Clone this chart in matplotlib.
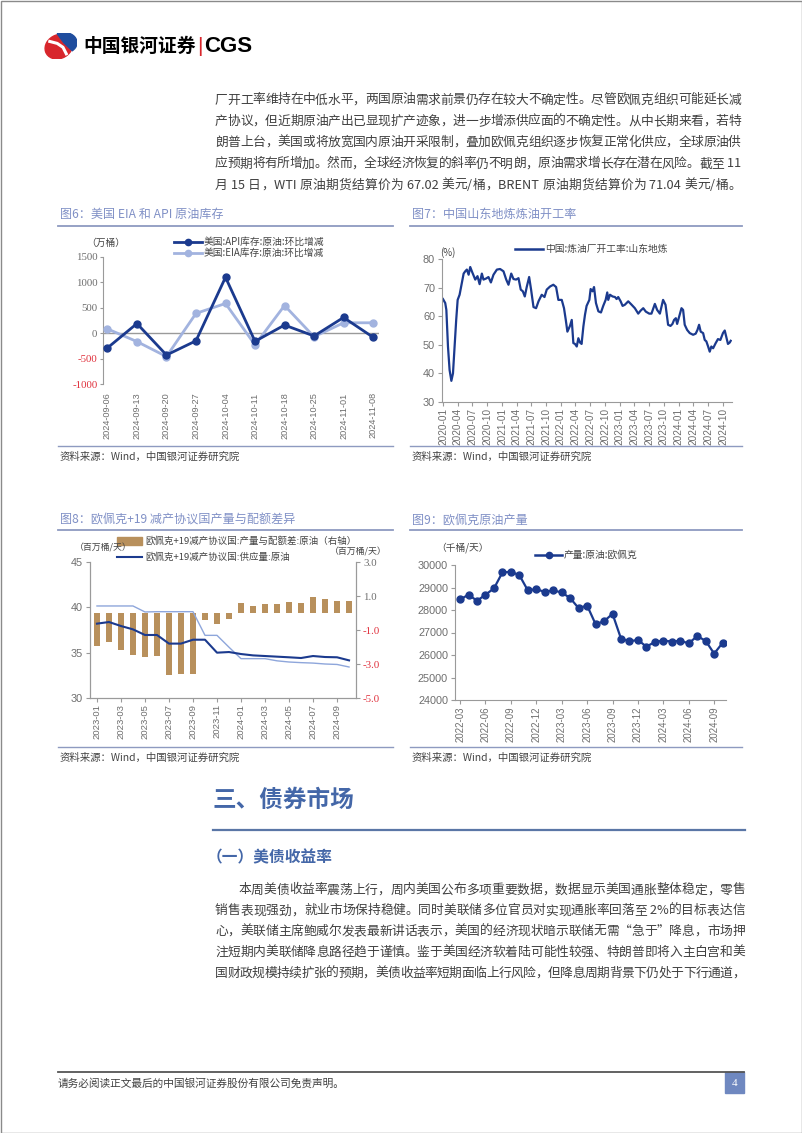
import re
import numpy as np
import pandas as pd
import matplotlib
matplotlib.use('Agg')
import matplotlib.pyplot as plt
import matplotlib.dates as mdates
from matplotlib.lines import Line2D
from matplotlib.patches import Rectangle, Ellipse, Wedge

plt.rcParams['font.family'] = ['Noto Sans CJK SC', 'DejaVu Sans']
plt.rcParams['axes.unicode_minus'] = False

# ---- data ----
# 图6 美国 EIA / API 原油库存 环比增减（万桶）
week6 = ['2024-09-06', '2024-09-13', '2024-09-20', '2024-09-27', '2024-10-04',
         '2024-10-11', '2024-10-18', '2024-10-25', '2024-11-01', '2024-11-08']
api6 = [-290, 190, -430, -150, 1100, -160, 160, -55, 310, -80]
eia6 = [85, -165, -460, 390, 585, -230, 545, -70, 205, 205]

# 图7 山东地炼开工率（%）
dates7 = ['2020-01-01', '2020-01-15', '2020-01-22', '2020-02-01', '2020-02-11', '2020-02-22',
          '2020-03-03', '2020-03-13', '2020-03-23', '2020-04-01', '2020-04-13', '2020-04-27',
          '2020-05-08', '2020-05-18', '2020-05-28', '2020-06-08', '2020-06-18', '2020-06-28',
          '2020-07-09', '2020-07-19', '2020-08-02', '2020-08-15', '2020-08-29', '2020-09-08',
          '2020-09-25', '2020-10-09', '2020-10-24', '2020-11-09', '2020-11-30', '2020-12-20',
          '2021-01-10', '2021-01-27', '2021-02-10', '2021-02-27', '2021-03-13', '2021-03-29',
          '2021-04-13', '2021-04-27', '2021-05-10', '2021-05-22', '2021-06-03', '2021-06-18',
          '2021-06-30', '2021-07-15', '2021-07-31', '2021-08-15', '2021-09-04', '2021-09-21',
          '2021-10-05', '2021-10-26', '2021-11-15', '2021-12-02', '2021-12-16', '2022-01-06',
          '2022-01-20', '2022-01-31', '2022-02-10', '2022-02-26', '2022-03-09', '2022-03-19',
          '2022-03-29', '2022-04-09', '2022-04-19', '2022-04-29', '2022-05-09', '2022-05-20',
          '2022-05-30', '2022-06-09', '2022-06-26', '2022-07-04', '2022-07-16', '2022-07-25',
          '2022-08-06', '2022-08-21', '2022-09-06', '2022-09-20', '2022-10-05', '2022-10-15',
          '2022-10-21', '2022-11-01', '2022-11-17', '2022-12-02', '2022-12-12', '2022-12-22',
          '2023-01-06', '2023-01-18', '2023-02-01', '2023-02-22', '2023-03-15', '2023-04-04',
          '2023-04-25', '2023-05-09', '2023-05-26', '2023-06-11', '2023-07-02', '2023-07-16',
          '2023-08-06', '2023-08-20', '2023-09-06', '2023-09-26', '2023-10-11', '2023-10-27',
          '2023-11-11', '2023-11-23', '2023-12-03', '2023-12-14', '2023-12-22', '2024-01-01',
          '2024-01-18', '2024-01-28', '2024-02-07', '2024-02-22', '2024-03-09', '2024-03-30',
          '2024-04-15', '2024-04-26', '2024-05-06', '2024-05-16', '2024-05-31', '2024-06-10',
          '2024-06-20', '2024-07-01', '2024-07-11', '2024-07-21', '2024-08-01', '2024-08-17',
          '2024-08-31', '2024-09-15', '2024-10-01', '2024-10-12', '2024-10-22', '2024-11-01',
          '2024-11-12', '2024-11-18']
util7 = [66.0, 64.6, 62.2, 49.4, 41.2, 37.4, 40.0, 49.4, 58.7, 65.7, 67.5, 71.6,
         74.9, 75.7, 76.3, 74.5, 77.2, 75.7, 74.2, 72.8, 74.0, 71.2, 74.9, 72.8,
         73.2, 73.7, 71.8, 74.5, 76.3, 76.5, 75.7, 72.8, 71.0, 74.9, 73.0, 72.8,
         73.3, 69.3, 68.7, 66.9, 70.2, 73.7, 69.3, 63.2, 62.8, 65.2, 67.5, 66.7,
         69.3, 70.4, 71.0, 70.2, 65.7, 65.7, 62.8, 58.7, 54.6, 56.6, 58.7, 50.6,
         50.3, 49.4, 52.3, 50.8, 50.3, 56.4, 60.5, 63.6, 65.7, 69.5, 68.7, 70.2,
         64.6, 61.7, 61.3, 63.6, 65.7, 68.3, 65.7, 67.5, 66.9, 66.7, 66.0, 66.7,
         65.2, 63.6, 64.0, 65.2, 64.0, 62.8, 60.9, 61.9, 62.8, 61.6, 60.9, 60.9,
         64.3, 62.2, 60.9, 65.7, 64.0, 57.0, 56.6, 57.3, 58.7, 59.3, 57.3, 59.3,
         62.8, 62.2, 57.0, 55.2, 54.1, 53.5, 53.9, 55.2, 57.0, 54.6, 54.1, 51.7,
         51.2, 49.4, 47.6, 49.4, 48.8, 50.6, 52.0, 51.7, 54.1, 55.0, 52.7, 50.3,
         50.8, 51.4]

# 图8 欧佩克+19 减产协议国
months8 = ['2023-01', '2023-02', '2023-03', '2023-04', '2023-05', '2023-06', '2023-07',
           '2023-08', '2023-09', '2023-10', '2023-11', '2023-12', '2024-01', '2024-02',
           '2024-03', '2024-04', '2024-05', '2024-06', '2024-07', '2024-08', '2024-09',
           '2024-10']
gap8 = [-1.92, -1.69, -2.16, -2.49, -2.59, -2.55, -3.67, -3.59, -3.59, -0.39, -0.65,
        -0.35, 0.57, 0.43, 0.51, 0.51, 0.65, 0.59, 0.94, 0.84, 0.73, 0.73]
supply8 = [38.20, 38.38, 37.94, 37.57, 36.95, 36.95, 36.00, 36.00, 36.43, 36.43, 35.00,
           35.07, 34.85, 34.70, 34.63, 34.56, 34.49, 34.41, 34.63, 34.52, 34.49, 34.15]
quota8 = [40.15, 40.15, 40.15, 40.15, 39.49, 39.52, 39.52, 39.52, 39.52, 36.91, 36.91,
          35.60, 34.34, 34.34, 34.34, 34.10, 33.97, 33.90, 33.85, 33.75, 33.70, 33.42]

# 图9 欧佩克原油产量（千桶/天）
months9 = ['2022-03', '2022-04', '2022-05', '2022-06', '2022-07', '2022-08', '2022-09',
           '2022-10', '2022-11', '2022-12', '2023-01', '2023-02', '2023-03', '2023-04',
           '2023-05', '2023-06', '2023-07', '2023-08', '2023-09', '2023-10', '2023-11',
           '2023-12', '2024-01', '2024-02', '2024-03', '2024-04', '2024-05', '2024-06',
           '2024-07', '2024-08', '2024-09', '2024-10']
opec9 = [28470, 28680, 28410, 28680, 28960, 29670, 29700, 29550, 28870, 28930, 28800,
         28870, 28780, 28530, 28080, 28200, 27370, 27500, 27830, 26730, 26610, 26670,
         26370, 26580, 26640, 26600, 26630, 26520, 26840, 26630, 26060, 26540]

para1 = ['厂开工率维持在中低水平，两国原油需求前景仍存在较大不确定性。尽管欧佩克组织可能延长减',
         '产协议，但近期原油产出已显现扩产迹象，进一步增添供应面的不确定性。从中长期来看，若特',
         '朗普上台，美国或将放宽国内原油开采限制，叠加欧佩克组织逐步恢复正常化供应，全球原油供',
         '应预期将有所增加。然而，全球经济恢复的斜率仍不明朗，原油需求增长存在潜在风险。截至 11',
         '月 15 日，WTI 原油期货结算价为 67.02 美元/桶，BRENT 原油期货结算价为 71.04 美元/桶。']
para2 = ['本周美债收益率震荡上行，周内美国公布多项重要数据，数据显示美国通胀整体稳定，零售',
         '销售表现强劲，就业市场保持稳健。同时美联储多位官员对实现通胀率回落至 2%的目标表达信',
         '心，美联储主席鲍威尔发表最新讲话表示，美国的经济现状暗示联储无需“急于”降息，市场押',
         '注短期内美联储降息路径趋于谨慎。鉴于美国经济软着陆可能性较强、特朗普即将入主白宫和美',
         '国财政规模持续扩张的预期，美债收益率短期面临上行风险，但降息周期背景下仍处于下行通道，']

NAVY = '#1b3a8e'
LIGHT = '#a2b3df'
TAN = '#b8905c'
AX = '#9a9a9a'
TICK = '#6e6e6e'
RED = '#e0303c'
TITLE = '#8090c6'
RULE = '#8e9ac0'
BODY = '#404040'
SERIF = ['Liberation Serif', 'DejaVu Serif']
SANS = ['Liberation Sans', 'DejaVu Sans']

W, H = 802, 1133
fig = plt.figure(figsize=(W / 100, H / 100), dpi=100)
renderer = fig.canvas.get_renderer()


def box(l, t, r, b):
    return [l / W, 1 - b / H, (r - l) / W, (b - t) / H]


def put(x, y, s, **kw):
    kw.setdefault('va', 'center')
    return fig.text(x / W, 1 - y / H, s, **kw)


def hline(x0, x1, y, color, lw):
    fig.add_artist(Line2D([x0 / W, x1 / W], [1 - y / H] * 2, color=color, lw=lw))


def leg_line(x0, x1, y, color, lw=2, marker=None):
    hline(x0, x1, y, color, lw)
    if marker:
        fig.add_artist(Line2D([(x0 + x1) / 2 / W], [1 - y / H], color=color,
                              marker=marker, ms=4.5, lw=0))


def justify(y, s, x0, x1, **kw):
    toks = re.findall(r'[A-Za-z0-9.%/ ]+|.', s)
    arts = [put(0, y, t, **kw) for t in toks]
    ws = [a.get_window_extent(renderer).width for a in arts]
    gap = (x1 - x0 - sum(ws)) / max(len(toks) - 1, 1)
    x = x0
    for a, w in zip(arts, ws):
        a.set_x(x / W)
        x += w + gap


def chart_frame(x0, x1, ytitle, yrule, ysrc, title):
    put(x0 + 2, ytitle, title, fontsize=8.7, color=TITLE)
    hline(x0, x1, yrule, RULE, 1.3)
    hline(x0, x1, ysrc - 11, RULE, 1.0)
    put(x0 + 2, ysrc, '资料来源：Wind，中国银河证券研究院', fontsize=7.5,
        color='#444444', style='italic')


# ---- page frame, header ----
fig.add_artist(Rectangle((0.5 / W, 0.5 / H), 1 - 1 / W, 1 - 1 / H, transform=fig.transFigure,
                         fill=False, ec='#8a8a8a', lw=1))
logo = fig.add_axes(box(44, 33, 77, 59))
logo.set_xlim(-1, 1)
logo.set_ylim(-1, 1)
logo.axis('off')
logo.add_patch(Ellipse((-0.1, -0.05), 1.6, 1.95, angle=-25, color='#d8262c'))
logo.add_patch(Wedge((0.2, 0.25), 0.8, -50, 120, color='#1f4d9e'))
logo.plot([-0.65, -0.2, 0.15, 0.35], [0.35, 0.2, -0.1, -0.6], color='white', lw=2.2)
put(83, 46, '中国银河证券', fontsize=13.5, fontweight='bold', color='black')
put(197, 46, '|', fontsize=15, color='#d8262c', family=SANS)
put(204, 46, 'CGS', fontsize=16, fontweight='bold', color='black', family=SANS)

for i, line in enumerate(para1):
    justify(100 + i * 21.3, line, 215, 741, fontsize=9.2, color=BODY)

# ---- 图6 ----
chart_frame(58, 393, 214, 226, 457, '图6：美国 EIA 和 API 原油库存')
ax6 = fig.add_axes(box(103, 257, 379, 384))
x6 = np.arange(len(week6))
ax6.plot(x6, eia6, color=LIGHT, lw=2, marker='o', ms=5, zorder=3)
ax6.plot(x6, api6, color=NAVY, lw=2, marker='o', ms=5, zorder=4)
ax6.axhline(0, color=AX, lw=1, zorder=1)
ax6.set_xlim(-0.15, 9.2)
ax6.set_ylim(-1000, 1500)
ax6.set_yticks([-1000, -500, 0, 500, 1000, 1500])
ax6.set_xticks(x6, week6, rotation=90)
for s in ['top', 'right', 'bottom']:
    ax6.spines[s].set_visible(False)
ax6.spines['left'].set_color(AX)
ax6.tick_params(axis='x', length=0, pad=6, labelsize=6.6, labelcolor=TICK)
ax6.tick_params(axis='y', length=2, color=AX, pad=2, labelsize=7.8, labelcolor=TICK)
for lab, v in zip(ax6.get_yticklabels(), ax6.get_yticks()):
    lab.set_family(SERIF)
    if v < 0:
        lab.set_color(RED)
for lab in ax6.get_xticklabels():
    lab.set_family(SANS)
put(86, 243, '（万桶）', fontsize=7, color='#444444')
leg_line(174, 202, 242, NAVY, marker='o')
put(204, 242, '美国:API库存:原油:环比增减', fontsize=7, color='#444444')
leg_line(174, 202, 253, LIGHT, marker='o')
put(204, 253, '美国:EIA库存:原油:环比增减', fontsize=7, color='#444444')

# ---- 图7 ----
chart_frame(410, 742, 214, 226, 457, '图7：中国山东地炼炼油开工率')
ax7 = fig.add_axes(box(442, 259, 732, 402))
d7 = pd.to_datetime(dates7)
ax7.plot(d7, util7, color=NAVY, lw=1.6)
ax7.set_xlim(pd.Timestamp('2019-12-26'), pd.Timestamp('2024-11-26'))
ax7.set_ylim(30, 80)
ax7.set_yticks([30, 40, 50, 60, 70, 80])
ticks7 = pd.date_range('2020-01-01', '2024-10-01', freq='3MS')
ax7.set_xticks(ticks7)
ax7.xaxis.set_major_formatter(mdates.DateFormatter('%Y-%m'))
for s in ['top', 'right']:
    ax7.spines[s].set_visible(False)
for s in ['left', 'bottom']:
    ax7.spines[s].set_color(AX)
ax7.tick_params(axis='x', length=3, color=AX, pad=1.5, labelsize=7.2, labelcolor=TICK,
                labelrotation=90)
ax7.tick_params(axis='y', length=3, color=AX, pad=2, labelsize=7.8, labelcolor=TICK)
for lab in ax7.get_xticklabels() + ax7.get_yticklabels():
    lab.set_family(SANS)
put(440, 253, '(%)', fontsize=7, color='#444444')
leg_line(515, 543, 249, NAVY, lw=1.8)
put(545, 249, '中国:炼油厂开工率:山东地炼', fontsize=7, color='#444444')

# ---- 图8 ----
chart_frame(58, 393, 520, 530, 758, '图8：欧佩克+19 减产协议国产量与配额差异')
ax8 = fig.add_axes(box(90, 562, 356, 698))
ax8r = ax8.twinx()
x8 = np.arange(len(months8))
ax8r.bar(x8, gap8, width=0.5, color=TAN)
ax8.plot(x8, quota8, color='#8ea6db', lw=1.0)
ax8.plot(x8, supply8, color=NAVY, lw=1.5)
ax8.set_zorder(ax8r.get_zorder() + 1)
ax8.patch.set_visible(False)
ax8.set_xlim(-0.58, 21.58)
ax8.set_ylim(30, 45)
ax8.set_yticks([30, 35, 40, 45])
ax8r.set_ylim(-5, 3)
ax8r.set_yticks([3, 1, -1, -3, -5], ['3.0', '1.0', '-1.0', '-3.0', '-5.0'])
ax8.set_xticks(x8[::2], months8[::2], rotation=90)
ax8.spines['top'].set_visible(False)
ax8r.spines['top'].set_visible(False)
for a in (ax8, ax8r):
    for s in ['left', 'right', 'bottom']:
        a.spines[s].set_color(AX)
ax8.tick_params(axis='x', length=3, color=AX, pad=1.5, labelsize=6.8, labelcolor=TICK)
ax8.tick_params(axis='y', length=3, color=AX, pad=2, labelsize=7.8, labelcolor=TICK)
ax8r.tick_params(axis='y', length=3, color=AX, pad=2, labelsize=7.8, labelcolor=TICK)
for lab in ax8.get_xticklabels() + ax8.get_yticklabels():
    lab.set_family(SANS)
for lab, v in zip(ax8r.get_yticklabels(), ax8r.get_yticks()):
    lab.set_family(SERIF)
    if v < 0:
        lab.set_color(RED)
put(75, 548, '（百万桶/天）', fontsize=6.4, color='#444444')
put(330, 552, '（百万桶/天）', fontsize=6.4, color='#444444')
fig.add_artist(Rectangle((117 / W, 1 - 545 / H), 25 / W, 8 / H, transform=fig.transFigure,
                         color=TAN))
put(145, 541, '欧佩克+19减产协议国:产量与配额差:原油（右轴）', fontsize=6.8, color='#444444')
leg_line(117, 142, 557, NAVY, lw=1.5)
put(145, 557, '欧佩克+19减产协议国:供应量:原油', fontsize=6.8, color='#444444')

# ---- 图9 ----
chart_frame(410, 742, 520, 530, 758, '图9：欧佩克原油产量')
ax9 = fig.add_axes(box(455, 565, 726, 700))
x9 = np.arange(len(months9))
ax9.plot(x9, opec9, color=NAVY, lw=1.6, marker='o', ms=5)
ax9.set_xlim(-0.6, 31.4)
ax9.set_ylim(24000, 30000)
ax9.set_yticks(np.arange(24000, 30001, 1000))
ax9.set_xticks(x9[::3], months9[::3], rotation=90)
for s in ['top', 'right']:
    ax9.spines[s].set_visible(False)
for s in ['left', 'bottom']:
    ax9.spines[s].set_color(AX)
ax9.tick_params(axis='x', length=3, color=AX, pad=1.5, labelsize=6.9, labelcolor=TICK)
ax9.tick_params(axis='y', length=3, color=AX, pad=2, labelsize=7.8, labelcolor=TICK)
for lab in ax9.get_xticklabels() + ax9.get_yticklabels():
    lab.set_family(SANS)
put(436, 548, '（千桶/天）', fontsize=7, color='#444444')
leg_line(535, 562, 555, NAVY, lw=1.8, marker='o')
put(564, 555, '产量:原油:欧佩克', fontsize=7, color='#444444')

# ---- 三、债券市场 ----
put(213, 800, '三、债券市场', fontsize=17, fontweight='bold', color='#4467a8')
hline(213, 745, 830, '#5a76a6', 1.6)
put(207, 857, '（一）美债收益率', fontsize=11.3, fontweight='bold', color='#4467a8')
for i, line in enumerate(para2):
    x0 = 238 if i == 0 else 215
    justify(890 + i * 20.8, line, x0, 745, fontsize=9.2, color=BODY)

# ---- footer ----
hline(58, 744, 1072, '#555555', 1.3)
put(58, 1083, '请务必阅读正文最后的中国银河证券股份有限公司免责声明。', fontsize=7.7, color=BODY)
fig.add_artist(Rectangle((725 / W, 1 - 1093 / H), 19 / W, 21 / H, transform=fig.transFigure,
                         color='#6f88c0'))
put(734.5, 1083, '4', fontsize=8, color='white', ha='center', family=SERIF)

fig.savefig('out.png', dpi=100)
